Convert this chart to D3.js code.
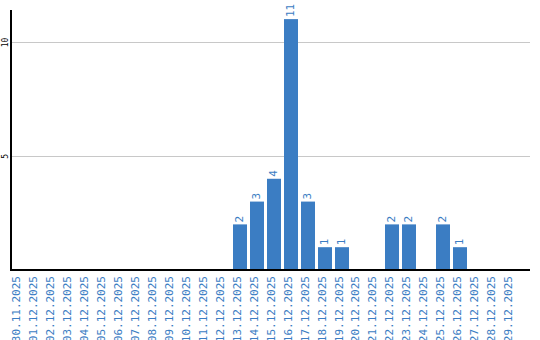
<!DOCTYPE html>
<html>
<head>
<meta charset="utf-8">
<script src="https://cdn.jsdelivr.net/npm/d3@7"></script>
<style>
  body { margin: 0; background: #fff; }
  svg { display: block; }
</style>
</head>
<body>
<svg id="chart" width="540" height="340"></svg>
<script>
const dates = ['30.11.2025', '01.12.2025', '02.12.2025', '03.12.2025', '04.12.2025', '05.12.2025',
  '06.12.2025', '07.12.2025', '08.12.2025', '09.12.2025', '10.12.2025', '11.12.2025', '12.12.2025',
  '13.12.2025', '14.12.2025', '15.12.2025', '16.12.2025', '17.12.2025', '18.12.2025', '19.12.2025',
  '20.12.2025', '21.12.2025', '22.12.2025', '23.12.2025', '24.12.2025', '25.12.2025', '26.12.2025',
  '27.12.2025', '28.12.2025', '29.12.2025'];
const counts = [0, 0, 0, 0, 0, 0, 0, 0, 0, 0, 0, 0, 0,
  2, 3, 4, 11, 3, 1, 1, 0, 0, 2, 2, 0, 2, 1, 0, 0, 0];
const yTicks = [5, 10];

const MARGINS = { top: 10, left: 11, right: 10, bottom: 70 };
const BLUE = '#3b7dc3';
const FONT = '"DejaVu Sans Mono", monospace';

const svg = d3.select('#chart');
const width = 540, height = 340;
const baseY = height - MARGINS.bottom;

const data = dates.map((d, i) => ({ date: d, value: counts[i] }));

const x = d3.scaleBand()
  .domain(dates)
  .range([MARGINS.left, 519.5])
  .paddingInner(0.18)
  .paddingOuter(0.09);

const y = d3.scaleLinear()
  .domain([0, 11.4])
  .range([baseY, MARGINS.top]);

// gridlines
svg.append('g').attr('class', 'grid')
  .selectAll('line')
  .data(yTicks)
  .join('line')
  .attr('x1', MARGINS.left)
  .attr('x2', width - MARGINS.right)
  .attr('y1', d => Math.round(y(d)) + 0.5)
  .attr('y2', d => Math.round(y(d)) + 0.5)
  .attr('stroke', '#c8c8c8')
  .attr('stroke-width', 1);

// bars
svg.append('g').attr('class', 'bars')
  .selectAll('rect')
  .data(data.filter(d => d.value > 0))
  .join('rect')
  .attr('x', d => Math.round(x(d.date)))
  .attr('y', d => y(d.value))
  .attr('width', Math.round(x.bandwidth()))
  .attr('height', d => baseY - y(d.value))
  .attr('fill', BLUE);

// value labels
svg.append('g').attr('class', 'labels')
  .selectAll('text')
  .data(data.filter(d => d.value > 0))
  .join('text')
  .attr('transform', d => `translate(${Math.round(x(d.date)) + x.bandwidth() / 2 + 3},${y(d.value) - 2}) rotate(-90)`)
  .attr('text-anchor', 'start')
  .attr('font-family', FONT)
  .attr('font-size', 11)
  .attr('fill', BLUE)
  .text(d => d.value);

// y axis
const axisY = svg.append('g').attr('class', 'axis-y')
  .attr('transform', `translate(${MARGINS.left},0)`)
  .call(d3.axisLeft(y).tickValues(yTicks).tickSize(0).tickPadding(0).tickFormat(d3.format('d')));
axisY.select('.domain').remove();
axisY.selectAll('text')
  .attr('x', null).attr('dy', null)
  .attr('transform', 'translate(-3,0) rotate(-90)')
  .attr('text-anchor', 'middle')
  .attr('font-family', FONT)
  .attr('font-size', 8)
  .attr('fill', '#000');
svg.append('line')
  .attr('x1', MARGINS.left).attr('x2', MARGINS.left)
  .attr('y1', MARGINS.top).attr('y2', baseY + 1)
  .attr('stroke', '#000').attr('stroke-width', 2);

// x axis
const axisX = svg.append('g').attr('class', 'axis-x')
  .attr('transform', `translate(0,${baseY})`)
  .call(d3.axisBottom(x).tickSize(0).tickPadding(0));
axisX.select('.domain').remove();
axisX.selectAll('text')
  .attr('y', null).attr('dy', null)
  .attr('transform', 'translate(1,6) rotate(-90)')
  .attr('text-anchor', 'end')
  .attr('font-family', FONT)
  .attr('font-size', 11)
  .attr('fill', BLUE);
svg.append('line')
  .attr('x1', MARGINS.left - 1).attr('x2', width - MARGINS.right)
  .attr('y1', baseY).attr('y2', baseY)
  .attr('stroke', '#000').attr('stroke-width', 2);
</script>
</body>
</html>
